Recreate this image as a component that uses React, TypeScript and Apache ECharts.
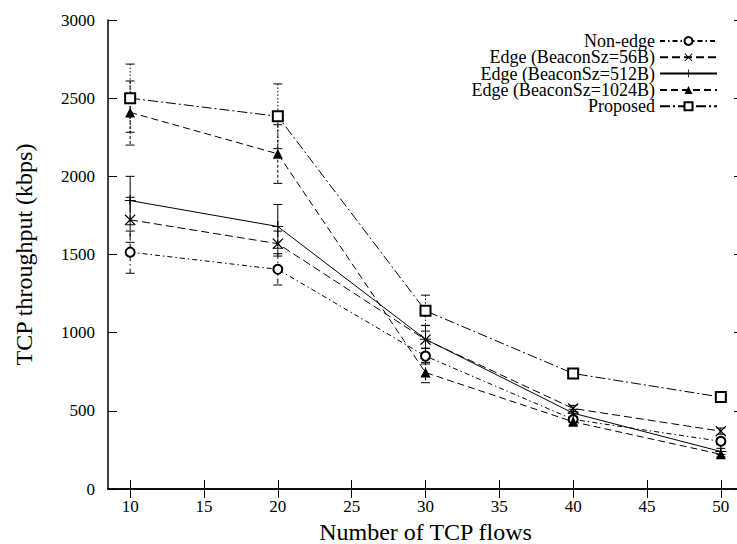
import React, { useEffect, useRef } from "react";
import * as echarts from "echarts";

const xs = [10, 20, 30, 40, 50];
const xTicks = [10, 15, 20, 25, 30, 35, 40, 45, 50];

const seriesNames = [
  "Non-edge",
  "Edge (BeaconSz=56B)",
  "Edge (BeaconSz=512B)",
  "Edge (BeaconSz=1024B)",
  "Proposed",
];

const nonEdge = [1515, 1405, 850, 445, 305];
const nonEdgeLow = [1380, 1305, 800, 425, 285];
const nonEdgeHigh = [1650, 1505, 900, 465, 325];

const edge56 = [1722, 1569, 955, 515, 370];
const edge56Low = [1578, 1490, 900, 495, 350];
const edge56High = [1866, 1650, 1010, 535, 390];

const edge512 = [1845, 1679, 958, 485, 240];
const edge512Low = [1690, 1540, 870, 460, 220];
const edge512High = [2000, 1820, 1047, 510, 260];

const edge1024 = [2409, 2144, 745, 430, 222];
const edge1024Low = [2200, 1955, 680, 410, 205];
const edge1024High = [2610, 2330, 810, 450, 240];

const proposed = [2500, 2384, 1140, 739, 588];
const proposedLow = [2282, 2177, 1045, 720, 572];
const proposedHigh = [2718, 2591, 1240, 758, 604];

const FONT = "Liberation Serif";

const XPATH =
  "path://M0,0.8 L0.8,0 L5,4.2 L9.2,0 L10,0.8 L5.8,5 L10,9.2 L9.2,10 L5,5.8 L0.8,10 L0,9.2 L4.2,5 Z";
const PLUSPATH =
  "path://M4.5,0 L5.5,0 L5.5,4.5 L10,4.5 L10,5.5 L5.5,5.5 L5.5,10 L4.5,10 L4.5,5.5 L0,5.5 L0,4.5 L4.5,4.5 Z";

export default function App() {
  const ref = useRef<HTMLDivElement>(null);
  useEffect(() => {
    if (!ref.current) return;
    const chart = echarts.init(ref.current, null, { renderer: "svg" });

    const lineDefs = [
      { vals: nonEdge, lo: nonEdgeLow, hi: nonEdgeHigh, symbol: "emptyCircle", size: 9, dash: [5, 3, 1.5, 3], errDash: [5, 3, 1.5, 3] },
      { vals: edge56, lo: edge56Low, hi: edge56High, symbol: XPATH, size: 11, dash: [8, 4], errDash: [6, 3] },
      { vals: edge512, lo: edge512Low, hi: edge512High, symbol: PLUSPATH, size: 11, dash: "solid", errDash: null },
      { vals: edge1024, lo: edge1024Low, hi: edge1024High, symbol: "triangle", size: 10, dash: [7, 4], errDash: [3, 2] },
      { vals: proposed, lo: proposedLow, hi: proposedHigh, symbol: "emptyRect", size: 10, dash: [10, 3, 2, 3], errDash: [1.5, 2] },
    ];

    const series: any[] = [];
    lineDefs.forEach((d, i) => {
      const errDash = d.errDash;
      series.push({
        name: seriesNames[i] + " err",
        type: "custom",
        xAxisIndex: 0,
        yAxisIndex: 0,
        silent: true,
        z: 1,
        data: xs.map((x, j) => [x, d.lo[j], d.hi[j]]),
        renderItem: (params: any, api: any) => {
          const x = api.value(0);
          const p1 = api.coord([x, api.value(2)]);
          const p2 = api.coord([x, api.value(1)]);
          const w = 4.5;
          const st: any = { stroke: "#000", lineWidth: 1 };
          if (errDash) st.lineDash = errDash;
          return {
            type: "group",
            children: [
              { type: "line", shape: { x1: p1[0], y1: p1[1], x2: p2[0], y2: p2[1] }, style: st },
              { type: "line", shape: { x1: p1[0] - w, y1: p1[1], x2: p1[0] + w, y2: p1[1] }, style: { stroke: "#000", lineWidth: 1 } },
              { type: "line", shape: { x1: p2[0] - w, y1: p2[1], x2: p2[0] + w, y2: p2[1] }, style: { stroke: "#000", lineWidth: 1 } },
            ],
          };
        },
      });
      series.push({
        name: seriesNames[i],
        type: "line",
        xAxisIndex: 0,
        yAxisIndex: 0,
        z: 2,
        data: xs.map((x, j) => [x, d.vals[j]]),
        symbol: d.symbol,
        symbolSize: d.size,
        showAllSymbol: true,
        lineStyle: { color: "#000", width: 1, type: d.dash },
        itemStyle: { color: "#000", borderColor: "#000", borderWidth: d.symbol.startsWith("empty") ? 1 : 0 },
      });
    });

    const axisCommon = {
      axisLine: { show: true, lineStyle: { color: "#000", width: 1.5 } },
      splitLine: { show: false },
    };
    const plain = (v: number) => String(v);

    chart.setOption({
      animation: false,
      backgroundColor: "#fff",
      textStyle: { fontFamily: FONT },
      grid: { left: 108, top: 20, right: -6, bottom: 55, containLabel: false, outerBoundsMode: "none" },
      legend: {
        data: seriesNames,
        orient: "vertical",
        right: 14,
        top: 27,
        align: "right",
        itemWidth: 57,
        itemHeight: 10,
        itemGap: -1.7,
        selectedMode: false,
        textStyle: { fontFamily: FONT, fontSize: 18, color: "#000" },
      },
      xAxis: [
        {
          ...axisCommon,
          type: "value",
          min: 8.5,
          max: 51.5,
          position: "bottom",
          name: "Number of TCP flows",
          nameLocation: "middle",
          nameGap: 21,
          nameTextStyle: { fontFamily: FONT, fontSize: 24, color: "#000" },
          axisTick: { show: true, inside: true, length: 9, customValues: xTicks, lineStyle: { color: "#000" } },
          axisLabel: { show: true, customValues: xTicks, formatter: plain, fontFamily: FONT, fontSize: 17, color: "#000", margin: 9 },
        },
        {
          ...axisCommon,
          type: "value",
          min: 8.5,
          max: 51.5,
          position: "top",
          axisTick: { show: true, inside: true, length: 9, customValues: xTicks, lineStyle: { color: "#000" } },
          axisLabel: { show: false },
        },
      ],
      yAxis: [
        {
          ...axisCommon,
          type: "value",
          min: 0,
          max: 3000,
          interval: 500,
          position: "left",
          name: "TCP throughput (kbps)",
          nameLocation: "middle",
          nameGap: 72,
          nameTextStyle: { fontFamily: FONT, fontSize: 24, color: "#000" },
          axisTick: { show: true, inside: true, length: 9, lineStyle: { color: "#000" } },
          axisLabel: { show: true, formatter: plain, fontFamily: FONT, fontSize: 17, color: "#000", margin: 13 },
        },
        {
          ...axisCommon,
          type: "value",
          min: 0,
          max: 3000,
          interval: 500,
          position: "right",
          axisTick: { show: true, inside: true, length: 9, lineStyle: { color: "#000" } },
          axisLabel: { show: false },
        },
      ],
      series,
    });
    return () => chart.dispose();
  }, []);
  return (
    <div
      ref={ref}
      style={{ position: "fixed", left: 0, top: 0, width: 737, height: 544, background: "#fff" }}
    />
  );
}
